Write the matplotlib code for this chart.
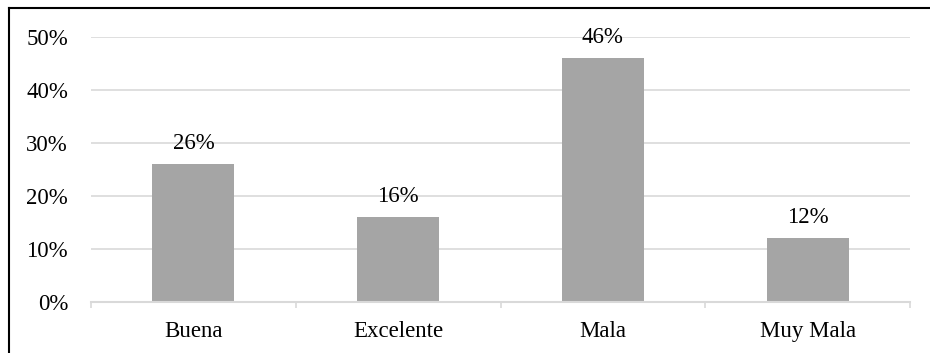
import matplotlib
matplotlib.use("Agg")
import matplotlib.pyplot as plt
from matplotlib.lines import Line2D

categories = ["Buena", "Excelente", "Mala", "Muy Mala"]
values = [26, 16, 46, 12]
yticks = [0, 10, 20, 30, 40, 50]
ytick_labels = ["0%", "10%", "20%", "30%", "40%", "50%"]

plt.rcParams["font.family"] = ["Liberation Serif", "DejaVu Serif"]

W, H = 930, 353
FS = 16.5
fig = plt.figure(figsize=(W / 100, H / 100), dpi=100)
fig.patch.set_facecolor("white")

ax = fig.add_axes([91 / W, 1 - 301.7 / H, (910 - 91) / W, (301.7 - 37.2) / H])

grid_color = "#D9D9D9"
x = list(range(len(categories)))
ax.bar(x, values, width=0.4, color="#A5A5A5", zorder=3)

for xi, v in zip(x, values):
    ax.annotate(f"{v}%", xy=(xi, v), xytext=(0, 7.5), textcoords="offset points",
                ha="center", va="bottom", fontsize=FS, color="#000000")

ax.set_xlim(-0.5, len(categories) - 0.5)
ax.set_ylim(0, 50)
ax.set_yticks(yticks)
ax.set_yticklabels(ytick_labels, fontsize=FS)
ax.set_xticks(x)
ax.set_xticklabels(categories, fontsize=FS)
ax.set_xticks([i - 0.5 for i in range(len(categories) + 1)], minor=True)

ax.tick_params(axis="y", length=0, pad=16.5)
ax.tick_params(axis="x", which="major", length=0, pad=14)
ax.tick_params(axis="x", which="minor", length=4, width=1.2, color=grid_color, direction="out")

ax.yaxis.grid(True, color=grid_color, linewidth=1.2, zorder=0)
ax.set_axisbelow(True)
for side in ["top", "right", "left"]:
    ax.spines[side].set_visible(False)
ax.spines["bottom"].set_color(grid_color)
ax.spines["bottom"].set_linewidth(1.5)
ax.spines["bottom"].set_zorder(4)

# Outer frame: top and left edges of the chart area
fig.add_artist(Line2D([9 / W, 9 / W], [0, 1 - 8 / H], transform=fig.transFigure,
                      color="black", linewidth=1.5))
fig.add_artist(Line2D([9 / W, 1], [1 - 8 / H, 1 - 8 / H], transform=fig.transFigure,
                      color="black", linewidth=1.5))

fig.savefig("out.png", dpi=100, facecolor="white")
